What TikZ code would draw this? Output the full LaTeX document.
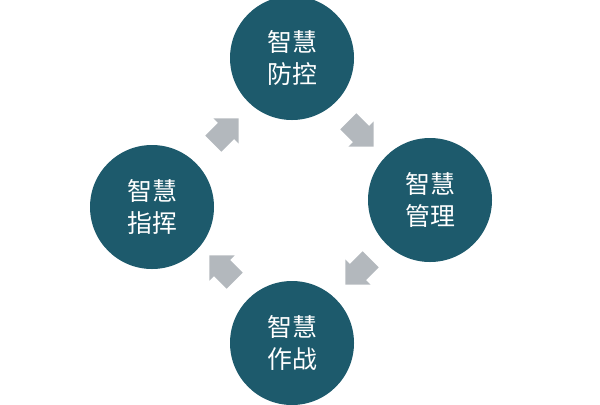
\documentclass[tikz,border=0pt]{standalone}
\usepackage{fontspec}
\newfontfamily\cjk{Noto Sans CJK SC}
\usetikzlibrary{shapes.arrows}
\definecolor{teal1}{HTML}{1D5A6C}
\definecolor{arr}{HTML}{B3B8BD}
\tikzset{
 circ/.style={circle,fill=teal1,minimum size=124bp,inner sep=0pt,text=white,font=\cjk\fontsize{25}{33}\selectfont,align=center},
 barrow/.style={single arrow,fill=arr,minimum height=36bp,minimum width=36bp,single arrow head extend=6bp,inner xsep=2bp,inner ysep=10bp,single arrow tip angle=90}
}
\begin{document}
\begin{tikzpicture}[x=1bp,y=-1bp]
\useasboundingbox (0,0) rectangle (600,404);
\node[circ] (t) at (292,58) {智慧\\防控};
\node[circ] (r) at (430,200) {智慧\\管理};
\node[circ] (b) at (292,343) {智慧\\作战};
\node[circ] (l) at (152,207) {智慧\\指挥};
\node[barrow,rotate=-45] (a1) at (357,130) {};
\node[barrow,rotate=-135] (a2) at (362,268) {};
\node[barrow,rotate=135] (a3) at (226,272) {};
\node[barrow,rotate=45] (a4) at (222,135) {};
\end{tikzpicture}
\end{document}
